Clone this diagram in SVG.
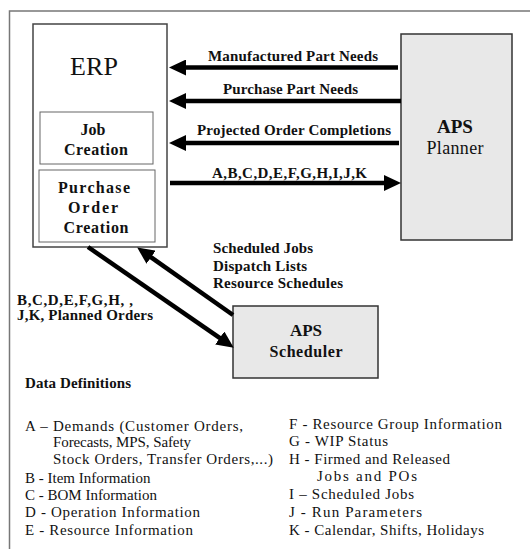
<svg xmlns="http://www.w3.org/2000/svg" width="530" height="549" viewBox="0 0 530 549">
<style>
  .t { font-family: "Liberation Serif", "Times New Roman", serif; fill: #111; }
  .b { font-weight: bold; }
  .lbl { font-size: 15px; font-weight: bold; }
  .def { font-size: 15px; }
  .box { fill: #fff; stroke: #444; stroke-width: 1.5; }
  .inner { fill: #fff; stroke: #666; stroke-width: 1; }
  .aps { fill: #e8e8e8; stroke: #333; stroke-width: 1.5; }
  .conn { stroke: #000; stroke-width: 4.5; fill: none; marker-end: url(#ah); }
  .frame { stroke: #777; stroke-width: 1.5; fill: none; }
</style>
<defs>
  <marker id="ah" markerUnits="userSpaceOnUse" markerWidth="18" markerHeight="16" refX="6" refY="8" orient="auto">
    <path d="M0,0 L17,8 L0,16 z" fill="#000"/>
  </marker>
</defs>
<rect width="530" height="549" fill="#fff"/>
<path class="frame" d="M9.5,549 V11 H530"/>

<g id="erp">
  <rect class="box" x="33" y="24" width="134" height="223"/>
  <text class="t" x="94" y="75" font-size="26" text-anchor="middle" textLength="48">ERP</text>
</g>
<g id="job-creation">
  <rect class="inner" x="40" y="112" width="113" height="52"/>
  <text class="t b" x="93" y="135" font-size="16" text-anchor="middle">Job</text>
  <text class="t b" x="96" y="155" font-size="16" text-anchor="middle" textLength="64">Creation</text>
</g>
<g id="po-creation">
  <rect class="inner" x="39" y="170" width="116" height="72"/>
  <text class="t b" x="94" y="193" font-size="16" text-anchor="middle" textLength="72">Purchase</text>
  <text class="t b" x="93" y="213" font-size="16" text-anchor="middle" textLength="50">Order</text>
  <text class="t b" x="96" y="233" font-size="16" text-anchor="middle" textLength="65">Creation</text>
</g>
<g id="aps-planner">
  <rect class="aps" x="401" y="34" width="111" height="206"/>
  <text class="t b" x="455" y="133" font-size="19" text-anchor="middle">APS</text>
  <text class="t" x="455" y="154" font-size="18" text-anchor="middle" textLength="57">Planner</text>
</g>
<g id="aps-scheduler">
  <rect class="aps" x="233" y="306" width="145" height="72"/>
  <text class="t b" x="306" y="336" font-size="17" text-anchor="middle">APS</text>
  <text class="t b" x="306" y="357" font-size="16" text-anchor="middle" textLength="73">Scheduler</text>
</g>

<g id="connectors">
  <line class="conn" x1="398" y1="67.5" x2="180" y2="67.5"/>
  <line class="conn" x1="401" y1="101" x2="180" y2="101"/>
  <line class="conn" x1="399" y1="143" x2="180" y2="143"/>
  <line class="conn" x1="170" y1="183" x2="390" y2="183"/>
  <line class="conn" x1="88" y1="247" x2="224.7" y2="341.4"/>
  <line class="conn" x1="233" y1="315" x2="146.2" y2="253.8"/>
</g>

<g id="connector-labels">
  <text class="t lbl" x="208" y="61" textLength="170">Manufactured Part Needs</text>
  <text class="t lbl" x="223" y="94" textLength="135">Purchase Part Needs</text>
  <text class="t lbl" x="197" y="135" textLength="194">Projected Order Completions</text>
  <text class="t lbl" x="212" y="178" textLength="155">A,B,C,D,E,F,G,H,I,J,K</text>
  <text class="t lbl" x="213" y="253" textLength="100">Scheduled Jobs</text>
  <text class="t lbl" x="213" y="270.5" textLength="94">Dispatch Lists</text>
  <text class="t lbl" x="213" y="288" textLength="130">Resource Schedules</text>
  <text class="t lbl" x="17" y="305" textLength="116">B,C,D,E,F,G,H,  ,</text>
  <text class="t lbl" x="17" y="320" textLength="136">J,K, Planned Orders</text>
</g>

<g id="data-definitions">
  <text class="t b" x="25" y="388" font-size="15" textLength="106">Data Definitions</text>
  <text class="t def" x="25" y="431" textLength="218">A – Demands (Customer Orders,</text>
  <text class="t def" x="53" y="447" textLength="138">Forecasts, MPS, Safety</text>
  <text class="t def" x="53" y="464" textLength="220">Stock Orders, Transfer Orders,...)</text>
  <text class="t def" x="25" y="483">B - Item Information</text>
  <text class="t def" x="25" y="500" textLength="132">C - BOM Information</text>
  <text class="t def" x="25" y="517" textLength="175">D - Operation Information</text>
  <text class="t def" x="25" y="535" textLength="168">E - Resource Information</text>
  <text class="t def" x="289" y="429" textLength="213">F - Resource Group Information</text>
  <text class="t def" x="289" y="446" textLength="99">G - WIP Status</text>
  <text class="t def" x="289" y="464" textLength="161">H - Firmed and Released</text>
  <text class="t def" x="317" y="481" textLength="100">Jobs and  POs</text>
  <text class="t def" x="289" y="499" textLength="125">I – Scheduled Jobs</text>
  <text class="t def" x="289" y="517" textLength="133">J - Run Parameters</text>
  <text class="t def" x="289" y="535" textLength="195">K - Calendar, Shifts, Holidays</text>
</g>
</svg>
